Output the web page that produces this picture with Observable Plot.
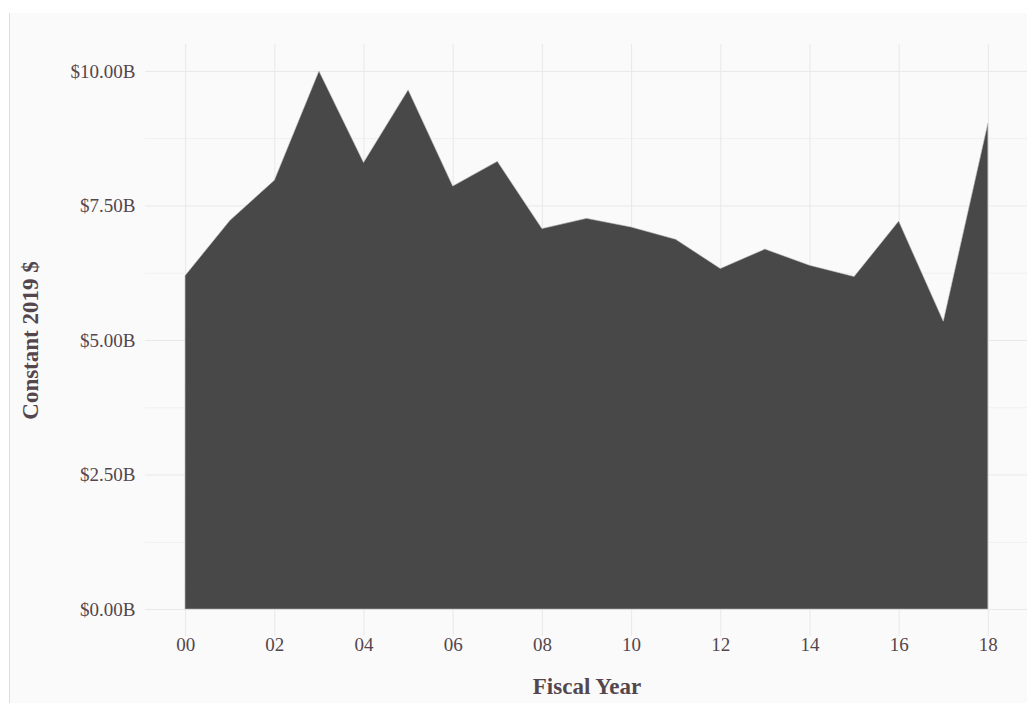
<!DOCTYPE html>
<html>
<head>
<meta charset="utf-8">
<script src="https://cdn.jsdelivr.net/npm/d3@7"></script>
<script src="https://cdn.jsdelivr.net/npm/@observablehq/plot@0.6"></script>
<style>
  html, body { margin: 0; padding: 0; background: #ffffff; }
  #frame {
    position: absolute; left: 9px; top: 13px; width: 1018px; height: 690px;
    background: #fafafa; border-left: 1px solid #dcdcdc; overflow: hidden;
  }
  #frame svg { display: block; }
</style>
</head>
<body>
<div id="frame"></div>
<script>
// Fiscal years (2000–2018, shown as two digits)
const years = [0, 1, 2, 3, 4, 5, 6, 7, 8, 9, 10, 11, 12, 13, 14, 15, 16, 17, 18];
// Constant 2019 $, billions
const amounts = [6.20, 7.22, 7.97, 10.00, 8.30, 9.65, 7.86, 8.32, 7.07, 7.26, 7.10, 6.87, 6.33, 6.69, 6.39, 6.18, 7.21, 5.35, 9.03];

const xTicks = [0, 2, 4, 6, 8, 10, 12, 14, 16, 18];
const yTicks = [0, 2.5, 5, 7.5, 10];
const yMinorTicks = [1.25, 3.75, 6.25, 8.75];

const xTitle = "Fiscal Year";
const yTitle = "Constant 2019 $";

const data = years.map((y, i) => ({year: y, amount: amounts[i]}));

const textColor = "#54464d";
const font = "'Liberation Serif', 'Times New Roman', serif";

const chart = Plot.plot({
  width: 1018,
  height: 690,
  marginLeft: 135,
  marginRight: 0,
  marginTop: 31,
  marginBottom: 67,
  style: {background: "transparent", fontFamily: font, color: textColor},
  x: {domain: [-0.9, 18.9]},
  y: {domain: [-0.5, 10.5]},
  marks: [
    Plot.gridY(yMinorTicks, {stroke: "#f0f0f0", strokeOpacity: 1, strokeWidth: 1}),
    Plot.gridY(yTicks, {stroke: "#e8e8e8", strokeOpacity: 1, strokeWidth: 1}),
    Plot.gridX(xTicks, {stroke: "#e8e8e8", strokeOpacity: 1, strokeWidth: 1}),
    Plot.areaY(data, {x: "year", y: "amount", fill: "#484848", stroke: "#c4c4c4", strokeWidth: 0.6}),
    Plot.axisY(yTicks, {
      tickSize: 0, tickPadding: 10, fontSize: 19, fill: textColor,
      tickFormat: d => "$" + d.toFixed(2) + "B",
      label: null
    }),
    Plot.axisX(xTicks, {
      tickSize: 0, tickPadding: 1, fontSize: 19, fill: textColor,
      tickFormat: d3.format("02d"),
      label: null
    }),
    Plot.text([xTitle], {
      frameAnchor: "bottom", dy: 57, text: d => d,
      fontSize: 23, fontWeight: "bold", fill: textColor
    }),
    Plot.text([yTitle], {
      frameAnchor: "left", dx: -115, rotate: -90, textAnchor: "middle", text: d => d,
      fontSize: 23, fontWeight: "bold", fill: textColor
    })
  ]
});

document.getElementById("frame").appendChild(chart);
</script>
</body>
</html>
